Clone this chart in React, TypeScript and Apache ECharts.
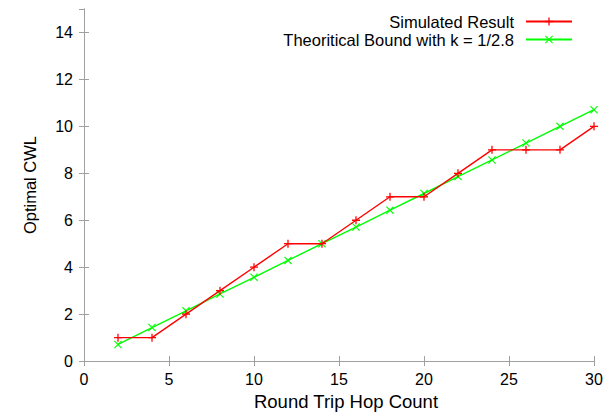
import React, { useEffect, useRef } from "react";
import * as echarts from "echarts";

const hopCounts = [2, 4, 6, 8, 10, 12, 14, 16, 18, 20, 22, 24, 26, 28, 30];
const simulated = [1, 1, 2, 3, 4, 5, 5, 6, 7, 7, 8, 9, 9, 9, 10];
const theoretical = [0.71, 1.43, 2.14, 2.86, 3.57, 4.29, 5.0, 5.71, 6.43, 7.14, 7.86, 8.57, 9.29, 10.0, 10.71];

const FONT = "Liberation Sans, Arial, Helvetica, sans-serif";
const AXIS_GRAY = "#a0a0a0";
const PLUS = "path://M4.2,0h1.6v4.2h4.2v1.6h-4.2v4.2h-1.6v-4.2h-4.2v-1.6h4.2z";
const CROSS = "path://M0,1L1,0L5,4L9,0L10,1L6,5L10,9L9,10L5,6L1,10L0,9L4,5Z";

export default function App() {
  const ref = useRef<HTMLDivElement>(null);
  useEffect(() => {
    if (!ref.current) return;
    const chart = echarts.init(ref.current, undefined, { renderer: "svg" });
    const axisCommon = {
      axisLine: { show: true, lineStyle: { color: AXIS_GRAY, width: 1 } },
      axisTick: { show: true, inside: true, length: 5, lineStyle: { color: AXIS_GRAY } },
      splitLine: { show: false },
    };
    const legendCommon = {
      right: 35,
      padding: [0, 5, 0, 0],
      align: "right",
      itemWidth: 46,
      itemHeight: 10,
      textStyle: {
        fontFamily: FONT,
        fontSize: 16.5,
        lineHeight: 16,
        color: "#000",
        padding: [0, 7, 0, 0],
      },
    };
    chart.setOption({
      animation: false,
      backgroundColor: "#ffffff",
      textStyle: { fontFamily: FONT },
      grid: { left: 84, right: 19, top: 9, bottom: 54, containLabel: false },
      legend: [
        { ...legendCommon, data: ["Simulated Result"], top: 13 },
        { ...legendCommon, data: ["Theoritical Bound with k = 1/2.8"], top: 31 },
      ],
      xAxis: [
        {
          type: "value",
          min: 0,
          max: 30,
          interval: 5,
          name: "Round Trip Hop Count",
          nameLocation: "middle",
          nameGap: 28,
          nameTextStyle: { fontFamily: FONT, fontSize: 18.5, color: "#000", padding: [0, 0, 0, 14] },
          axisLabel: { fontFamily: FONT, fontSize: 16, color: "#000", margin: 10 },
          ...axisCommon,
        },
        {
          type: "value",
          position: "top",
          min: 0,
          max: 30,
          interval: 5,
          axisLabel: { show: false },
          ...axisCommon,
        },
      ],
      yAxis: [
        {
          type: "value",
          min: 0,
          max: 15,
          interval: 2,
          name: "Optimal CWL",
          nameLocation: "middle",
          nameGap: 46,
          nameRotate: 90,
          nameTextStyle: { fontFamily: FONT, fontSize: 16.5, color: "#000" },
          axisLabel: { fontFamily: FONT, fontSize: 16, color: "#000", margin: 11, showMaxLabel: false },
          ...axisCommon,
        },
        {
          type: "value",
          position: "right",
          min: 0,
          max: 15,
          interval: 2,
          axisLabel: { show: false },
          ...axisCommon,
        },
      ],
      series: [
        {
          name: "Simulated Result",
          type: "line",
          data: hopCounts.map((x, i) => [x, simulated[i]]),
          symbol: PLUS,
          symbolSize: 8,
          showSymbol: true,
          lineStyle: { color: "#ff0000", width: 1.4 },
          itemStyle: { color: "#ff0000" },
          z: 3,
        },
        {
          name: "Theoritical Bound with k = 1/2.8",
          type: "line",
          data: hopCounts.map((x, i) => [x, theoretical[i]]),
          symbol: CROSS,
          symbolSize: 8,
          showSymbol: true,
          lineStyle: { color: "#00ff00", width: 1.4 },
          itemStyle: { color: "#00ff00" },
          z: 2,
        },
      ],
    });
    return () => chart.dispose();
  }, []);
  return <div ref={ref} style={{ width: 613, height: 416, position: "absolute", left: 0, top: 0 }} />;
}
